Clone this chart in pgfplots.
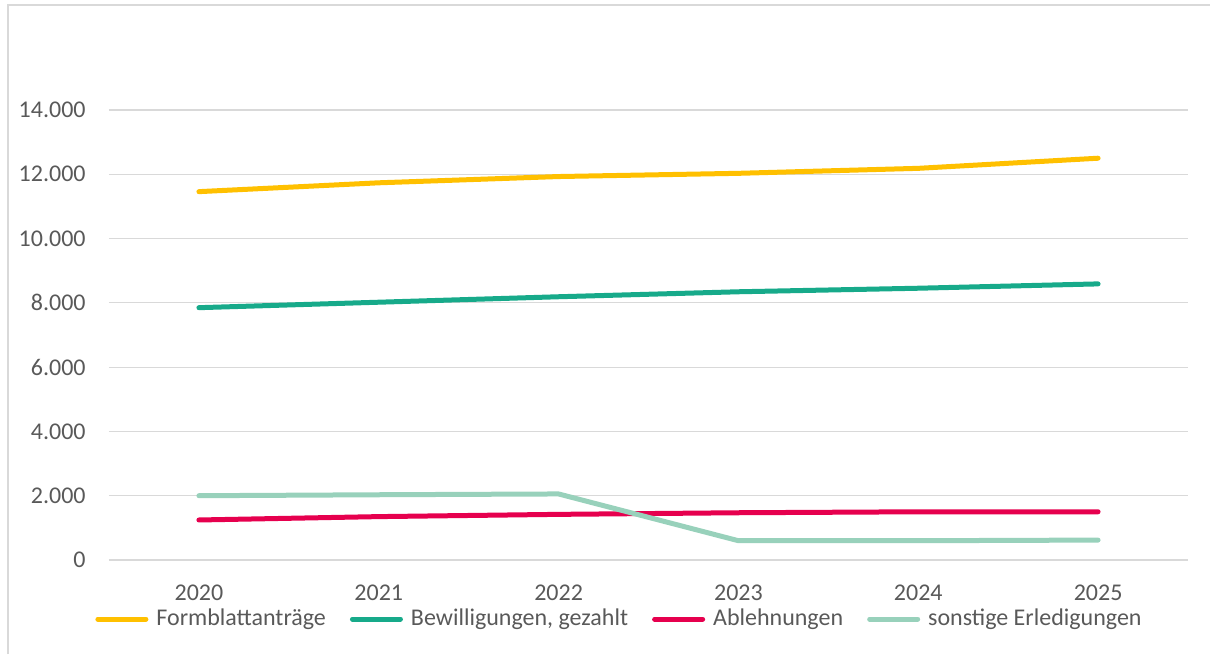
\documentclass[border=0pt]{standalone}
\usepackage{fontspec}
\setmainfont{Carlito}
\usepackage{pgfplots}
\pgfplotsset{compat=1.18}
\definecolor{gridgray}{HTML}{D9D9D9}
\definecolor{txtgray}{HTML}{595959}
\definecolor{cAntrag}{HTML}{FFC000}
\definecolor{cBewill}{HTML}{17AA8A}
\definecolor{cAbl}{HTML}{E6004E}
\definecolor{cSonst}{HTML}{98D1BB}

\begin{document}
\begin{tikzpicture}
% fixed page size, chart area 1210x654 px at 0.5pt per px
\path[use as bounding box] (-54.5pt,-47pt) rectangle (550.5pt,280pt);
\draw[gridgray, line width=0.8pt] (-50.5pt,-47pt) -- (-50.5pt,277.5pt) -- (550.5pt,277.5pt);
\begin{axis}[
  width=539.5pt, height=225pt, scale only axis,
  xmin=-0.5, xmax=5.5, ymin=0, ymax=14000,
  xtick={0,...,5}, xticklabels={2020,2021,2022,2023,2024,2025},
  ytick={0,2000,...,14000},
  ymajorgrids, major grid style={color=gridgray, line width=0.6pt},
  axis line style={draw=none}, tick style={draw=none},
  /pgf/number format/.cd, 1000 sep={.}, assume math mode=true, /pgfplots/.cd,
  scaled y ticks=false,
  every tick label/.append style={font=\fontsize{12}{14}\selectfont, text=txtgray},
  yticklabel style={anchor=east, inner sep=0pt, xshift=-11.5pt},
  xticklabel style={anchor=base, inner sep=0pt, yshift=-20pt},
  clip=false,
  legend columns=4,
  legend cell align=left,
  legend style={at={(-7pt,-29.5pt)}, anchor=west, draw=none, fill=none, inner sep=0pt,
    font=\fontsize{12}{14}\selectfont, text=txtgray,
    /tikz/every odd column/.append style={column sep=2pt},
    /tikz/every even column/.append style={column sep=10pt}},
  legend image code/.code={\draw[#1, line cap=round] (0pt,0pt) -- (24pt,0pt);},
  every axis plot/.append style={line width=2.5pt, line cap=round, line join=round},
]
\addplot[cAntrag] coordinates {(0,11460) (1,11735) (2,11930) (3,12030) (4,12185) (5,12500)};
\addlegendentry{Formblattanträge}
\addplot[cBewill] coordinates {(0,7850) (1,8020) (2,8190) (3,8345) (4,8455) (5,8590)};
\addlegendentry{Bewilligungen, gezahlt}
\addplot[cAbl] coordinates {(0,1245) (1,1350) (2,1420) (3,1470) (4,1500) (5,1500)};
\addlegendentry{Ablehnungen}
\addplot[cSonst] coordinates {(0,2000) (1,2030) (2,2055) (3,600) (4,600) (5,620)};
\addlegendentry{sonstige Erledigungen}
\end{axis}
\end{tikzpicture}
\end{document}
